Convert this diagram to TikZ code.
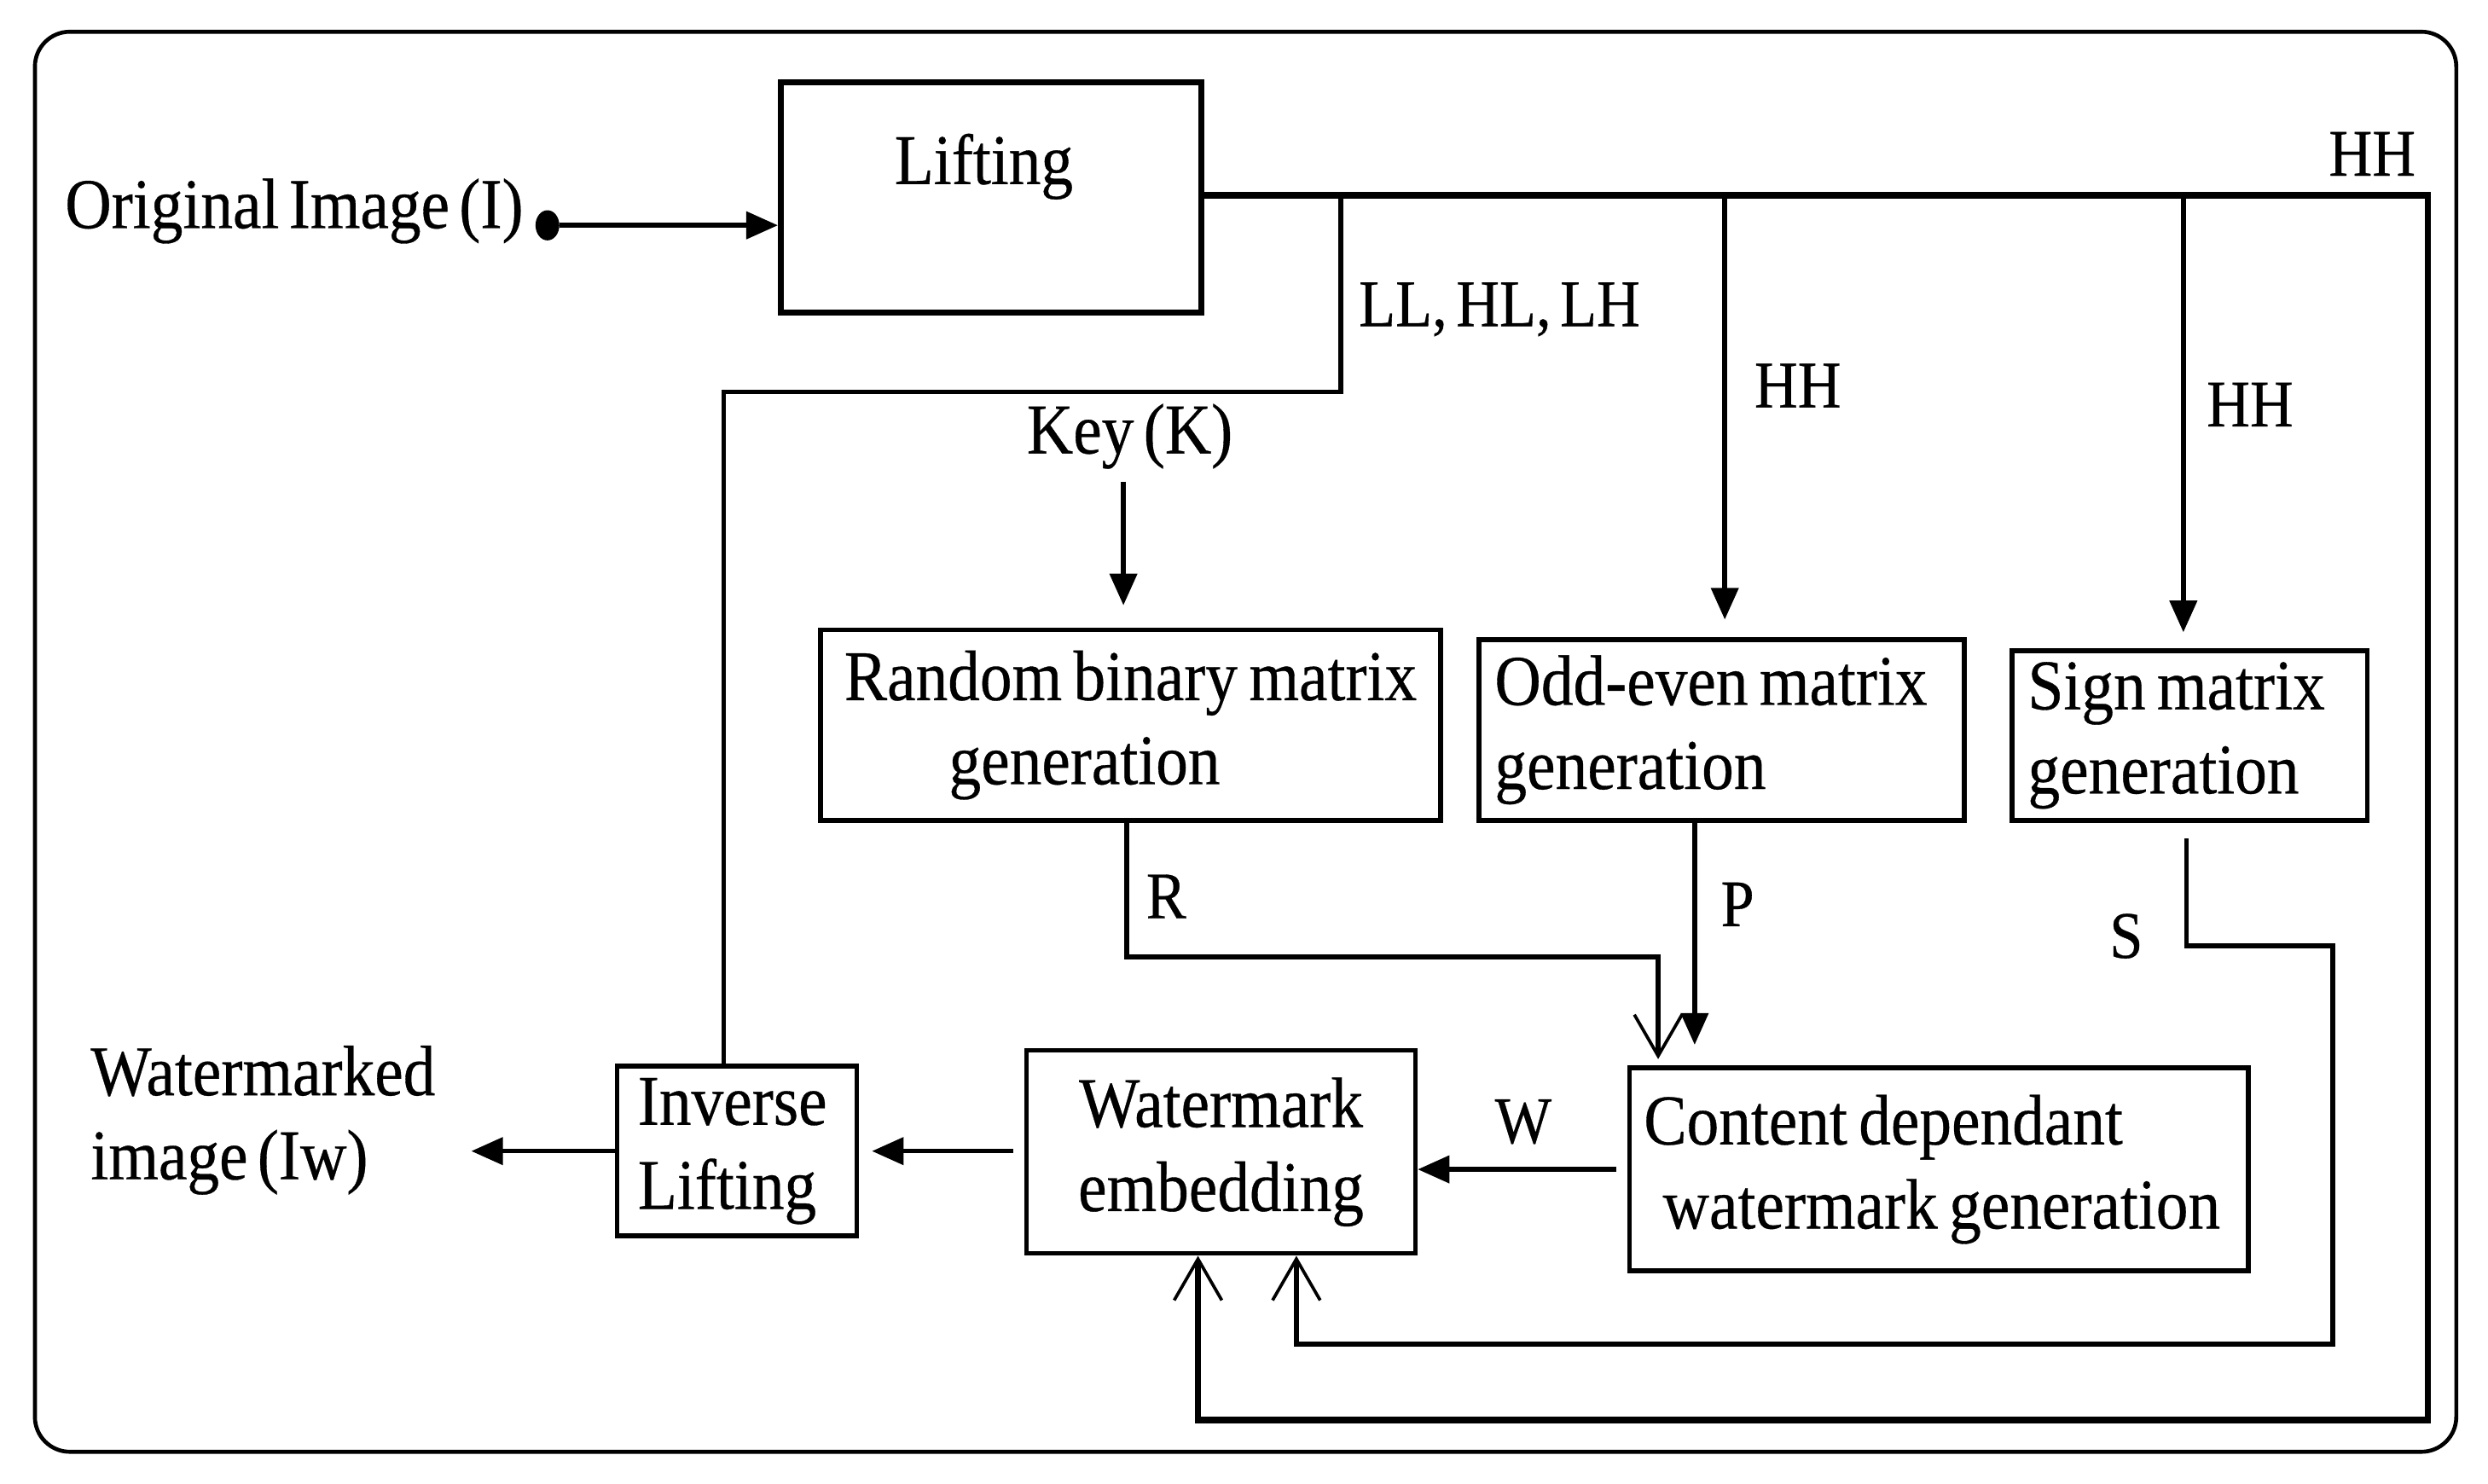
\documentclass[tikz,border=0pt]{standalone}
\usepackage{fontspec}
\setmainfont{Liberation Serif}[FakeStretch=0.9,FakeBold=0.4,WordSpace=0.6]
\usetikzlibrary{arrows.meta,shapes.geometric}
\begin{document}
\begin{tikzpicture}[x=1pt,y=-1pt,
  box/.style={draw, line width=3pt, inner sep=0pt, font=\fontsize{45}{53}\selectfont,
    execute at begin node={\spaceskip=0.16em plus 0.02em\relax}},
  txt/.style={font=\fontsize{45}{53}\selectfont, inner sep=0pt},
  lbl/.style={font=\fontsize{42}{44}\selectfont, inner sep=0pt},
  conn/.style={line width=3pt},
  fa/.style={-{Triangle[length=20pt,width=17pt]}},
  oa/.style={-{Straight Barb[length=26pt,width=30pt,line width=2pt]}}]
\useasboundingbox (0,0) rectangle (1568,935);
\draw[line width=2.5pt, rounded corners=22pt] (22,20) rectangle (1548,915);

% boxes
\node[box, line width=3.5pt, minimum width=265pt, minimum height=145pt] (lift) at (624.5,124.5) {};
\node[txt] (liftlabel) at (620,105) {Lifting};
\node[box, minimum width=391pt, minimum height=120pt, align=center] (rnd) at (712.5,457) {Random binary matrix\\generation\hspace*{58pt}};
\node[box, minimum height=114pt, text width=286pt, inner xsep=10pt, align=left] (odd) at (1085,460) {Odd-even matrix\\generation};
\node[box, minimum height=107pt, text width=204pt, inner xsep=10pt, align=left] (sign) at (1380,463.5) {Sign matrix\\generation};
\node[box, minimum height=128pt, text width=372pt, inner xsep=9pt, align=left] (cont) at (1222,737) {Content dependant\\\hspace*{12pt}watermark generation};
\node[box, minimum width=245pt, minimum height=128pt, align=center] (emb) at (769.5,726) {Watermark\\embedding};
\node[box, minimum height=107pt, text width=125pt, inner xsep=13pt, align=left] (inv) at (464.5,725.5) {Inverse\\Lifting};

% free texts
\node[txt, anchor=east] (orig) at (330,133) {Original Image (I)};
\node[ellipse, fill, inner sep=0pt, minimum width=15pt, minimum height=19pt] (dot) at (345,142) {};
\node[txt] (key) at (712,275) {Key (K)};
\node[txt, align=left, anchor=west] (wm) at (57,706) {Watermarked\\image (Iw)};
\coordinate (out) at (297,725.5);

% labels
\node[lbl] (hh1) at (1495,97) {HH};
\node[lbl] (llhl) at (945,195) {LL, HL, LH};
\node[lbl] (hh2) at (1133,243) {HH};
\node[lbl] (hh3) at (1418,255) {HH};
\node[lbl] (rl) at (735,565) {R};
\node[lbl] (pl) at (1095,570) {P};
\node[lbl] (sl) at (1340,590) {S};
\node[lbl] (wl) at (960,707) {W};

% junction coordinates
\coordinate (tr) at (1530,123);
\coordinate (br) at (1530,895);
\coordinate (bl) at (755,895);
\coordinate (j1) at (845,123);
\coordinate (a1) at (845,247);
\coordinate (a2) at (456,247);
\coordinate (j2) at (1087,123);
\coordinate (j3) at (1376,123);
\coordinate (r1) at (710,603);
\coordinate (r2) at (1045,603);
\coordinate (s1) at (1378,596);
\coordinate (s2) at (1470,596);
\coordinate (s3) at (1470,847);
\coordinate (s4) at (817,847);

% connectors
\draw[conn, fa] (dot) -- (dot -| lift.west);
\draw[line width=4pt, oa] (lift.east |- tr) -- (tr) -- (br) -- (bl) -- (bl |- emb.south);
\draw[conn] (j1) -- (a1) -- (a2) -- (a2 |- inv.north);
\draw[conn, fa] (j2) -- ([yshift=11pt]j2 |- odd.north);
\draw[conn, fa] (j3) -- ([yshift=10pt]j3 |- sign.north);
\draw[conn, fa] ([yshift=-8pt]key.south -| 708,0) -- ([yshift=14pt]rnd.north -| 708,0);
\draw[conn, oa] (r1 |- rnd.south) -- (r1) -- (r2) -- ([yshift=4pt]r2 |- cont.north);
\draw[conn, fa] (odd.south -| 1068,0) -- ([yshift=13pt]cont.north -| 1068,0);
\draw[conn, oa] ([yshift=-10pt]s1 |- sign.south) -- (s1) -- (s2) -- (s3) -- (s4) -- (s4 |- emb.south);
\draw[conn, fa] ([xshift=-7pt]cont.west) -- (cont.west -| emb.east);
\draw[conn, fa] ([xshift=-7pt]emb.west |- inv.east) -- ([xshift=8pt]inv.east);
\draw[conn, fa] (inv.west) -- (out);
\end{tikzpicture}
\end{document}
